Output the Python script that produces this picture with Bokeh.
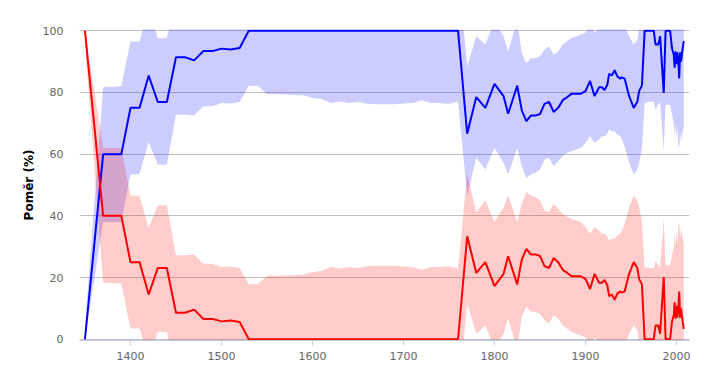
from bokeh.plotting import figure
from bokeh.models import Range1d, FixedTicker
from bokeh.embed import file_html
from bokeh.resources import INLINE

years = [1350, 1370, 1390, 1400, 1410, 1420, 1430, 1440, 1450, 1460, 1470, 1480, 1490, 1500,
         1510, 1520, 1530, 1540, 1550, 1560, 1570, 1580, 1590, 1600, 1610, 1620, 1630, 1640,
         1650, 1660, 1670, 1680, 1690, 1700, 1710, 1720, 1730, 1740, 1750, 1760, 1770, 1780,
         1790, 1800, 1810, 1815, 1825, 1830, 1835, 1840, 1845, 1850, 1855, 1860, 1865, 1870,
         1875, 1880, 1885, 1890, 1895, 1900, 1905, 1910, 1915, 1918, 1921, 1924, 1926, 1929,
         1932, 1935, 1938, 1940, 1943, 1948, 1953, 1957, 1959, 1962, 1965, 1970, 1975, 1977,
         1980, 1982, 1986, 1988, 1993, 1995, 1997, 1998, 1999, 2000, 2001, 2002, 2003, 2004,
         2005, 2006, 2008]

red = [100, 40, 40, 25, 25, 14.5, 23.1, 23.1, 8.6, 8.6, 9.6, 6.6, 6.6, 5.8,
       6.1, 5.6, 0, 0, 0, 0, 0, 0, 0, 0, 0, 0, 0, 0,
       0, 0, 0, 0, 0, 0, 0, 0, 0, 0, 0, 0, 33.4, 21.5,
       25, 17.2, 21.2, 26.9, 17.8, 25.8, 29.3, 27.5, 27.5, 27, 23.7, 23.1, 26.3, 25,
       22.5, 21.5, 20.4, 20.4, 20.4, 19.6, 16.3, 21.2, 18.3, 18.3, 19.2, 17.5, 14, 14.5,
       12.8, 14.8, 15.5, 15.1, 15.5, 21.2, 25, 23, 19.5, 17.8, 0, 0, 0, 4.5,
       4.5, 1.8, 20.2, 0, 0, 5.6, 7.8, 12, 6.7, 10.8, 7, 9.5, 15.5, 7,
       10, 7.5, 3.4]

red_lo = [96, 18.3, 18, 3.5, 3.5, -7.5, 2.4, 2.4, -10, -10, -9, -11, -11, -12,
          -12, -12, -18, -18, -20, -20, -20, -20, -20, -20, -20, -20, -20, -20,
          -20, -20, -20, -20, -20, -20, -20, -20, -20, -20, -20, -20, 11.5, 1.8,
          4.5, -3, 1.8, 6.7, -3, 7.2, 10.5, 8.9, 8.8, 8.3, 6.1, 5.1, 7.8, 6.7,
          4.5, 3.4, 2.3, 1.8, 1.2, 0.6, -2, 0.6, -1, -2, -2, -3, -5, -5,
          -6, -4, -3, -3, -2, 1.8, 4.5, 2.9, -1, -3, -20, -20, -20, -15,
          -15, -18, -10, -20, -20, -15, -12, -8, -10, -8, -10, -8, -4, -9,
          -6, -8, -10]

red_hi = [100, 62, 62, 46.6, 46.4, 36.1, 43.4, 43.4, 27.2, 27.2, 27.5, 24.5, 24.5, 23.4,
          23.6, 23.1, 17.8, 17.8, 20.6, 20.6, 20.7, 20.8, 20.9, 21.8, 22.1, 23.4, 22.9, 23.4,
          23.1, 23.7, 23.8, 23.8, 23.8, 23.6, 23.4, 22.5, 23.4, 23.4, 23.7, 22.9, 53.6, 41.2,
          45, 38, 42.8, 46.6, 38, 43.9, 47.7, 46.6, 46.1, 45, 41.7, 41.2, 43.9, 42.3,
          40.6, 39.6, 39, 38.5, 38, 36.3, 34.2, 36.3, 35.2, 34.2, 34.2, 33.2, 32, 32.6,
          32.6, 33.6, 34.2, 35.2, 37.4, 42.8, 46.6, 45, 42.8, 38.5, 23.4, 23, 23, 25.5,
          24, 23, 39, 24, 24, 27, 30, 34, 30, 35, 31, 37, 38, 33,
          36, 34, 31]

blue = [0, 60, 60, 75, 75, 85.5, 76.9, 76.9, 91.4, 91.4, 90.4, 93.4, 93.4, 94.2,
        93.9, 94.4, 100, 100, 100, 100, 100, 100, 100, 100, 100, 100, 100, 100,
        100, 100, 100, 100, 100, 100, 100, 100, 100, 100, 100, 100, 66.6, 78.5,
        75, 82.8, 78.8, 73.1, 82.2, 74.2, 70.7, 72.5, 72.5, 73, 76.3, 76.9, 73.7, 75,
        77.5, 78.5, 79.6, 79.6, 79.6, 80.4, 83.7, 78.8, 81.7, 81.7, 80.8, 82.5, 86, 85.5,
        87.2, 85.2, 84.5, 84.9, 84.5, 78.8, 75, 77, 80.5, 82.2, 100, 100, 100, 95.5,
        95.5, 98.2, 79.8, 100, 100, 94.4, 92.2, 88, 93.3, 89.2, 93, 90.5, 84.5, 93,
        90, 92.5, 96.6]

blue_lo = [0, 38, 38, 53.4, 53.6, 63.9, 56.6, 56.6, 72.8, 72.8, 72.5, 75.5, 75.5, 76.6,
           76.4, 76.9, 82.2, 82.2, 79.4, 79.4, 79.3, 79.2, 79.1, 78.2, 77.9, 76.6, 77.1, 76.6,
           76.9, 76.3, 76.2, 76.2, 76.2, 76.4, 76.6, 77.5, 76.6, 76.6, 76.3, 77.1, 46.4, 58.8,
           55, 62, 57.2, 53.4, 62, 56.1, 52.3, 53.4, 53.9, 55, 58.3, 58.8, 56.1, 57.7,
           59.4, 60.4, 61, 61.5, 62, 63.7, 65.8, 63.7, 64.8, 65.8, 65.8, 66.8, 68, 67.4,
           67.4, 66.4, 65.8, 64.8, 62.6, 57.2, 53.4, 55, 57.2, 61.5, 76.6, 77, 77, 74.5,
           76, 77, 61, 76, 76, 73, 70, 66, 70, 65, 69, 63, 62, 67,
           64, 66, 69]

blue_hi = [4, 81.7, 82, 96.5, 96.5, 107.5, 97.6, 97.6, 110, 110, 109, 111, 111, 112,
           112, 112, 118, 118, 120, 120, 120, 120, 120, 120, 120, 120, 120, 120,
           120, 120, 120, 120, 120, 120, 120, 120, 120, 120, 120, 120, 88.5, 98.2,
           95.5, 103, 98.2, 93.3, 103, 92.8, 89.5, 91.1, 91.2, 91.7, 93.9, 94.9, 92.2, 93.3,
           95.5, 96.6, 97.7, 98.2, 98.8, 99.4, 102, 99.4, 101, 102, 102, 103, 105, 105,
           106, 104, 103, 103, 102, 98.2, 95.5, 97.1, 101, 103, 120, 120, 120, 115,
           115, 118, 110, 120, 120, 115, 112, 108, 110, 108, 110, 108, 104, 109,
           106, 108, 110]

y_ticks = [0, 20, 40, 60, 80, 100]
x_ticks = [1400, 1500, 1600, 1700, 1800, 1900, 2000]
y_title = "Poměr (%)"

p = figure(width=706, height=378, output_backend="svg", toolbar_location=None,
           x_range=Range1d(1344, 2014.3), y_range=Range1d(-0.4, 100.4),
           min_border_left=79, min_border_right=17, min_border_top=29, min_border_bottom=38)
p.outline_line_color = None
p.background_fill_color = "white"
p.border_fill_color = "white"

p.varea(x=years, y1=blue_lo, y2=blue_hi, fill_color="#0000FF", fill_alpha=0.2)
p.varea(x=years, y1=red_lo, y2=red_hi, fill_color="#FF0000", fill_alpha=0.2)
p.line(years, blue, line_color="#0000FF", line_width=2)
p.line(years, red, line_color="#FF0000", line_width=2)

p.xgrid.grid_line_color = None
p.ygrid.grid_line_color = "#C0C0C0"
p.ygrid.grid_line_width = 1

p.xaxis.ticker = FixedTicker(ticks=x_ticks)
p.yaxis.ticker = FixedTicker(ticks=y_ticks)

p.xaxis.axis_line_color = "#C0D0E0"
p.xaxis.major_tick_line_color = "#C0D0E0"
p.xaxis.major_tick_out = 5
p.xaxis.major_tick_in = 0
p.xaxis.minor_tick_line_color = None
p.xaxis.major_label_standoff = 6

p.yaxis.axis_line_color = None
p.yaxis.major_tick_line_color = None
p.yaxis.minor_tick_line_color = None
p.yaxis.major_tick_out = 0
p.yaxis.major_tick_in = 0
p.yaxis.major_label_standoff = 16
p.yaxis.axis_label = y_title
p.yaxis.axis_label_text_font = "DejaVu Sans"
p.yaxis.axis_label_text_font_style = "bold"
p.yaxis.axis_label_text_font_size = "12px"
p.yaxis.axis_label_text_color = "#000000"
p.yaxis.axis_label_standoff = 4

for ax in (p.xaxis, p.yaxis):
    ax.major_label_text_font = "DejaVu Sans"
    ax.major_label_text_font_size = "11px"
    ax.major_label_text_color = "#666666"

open("out.html", "w").write(file_html(p, INLINE))
